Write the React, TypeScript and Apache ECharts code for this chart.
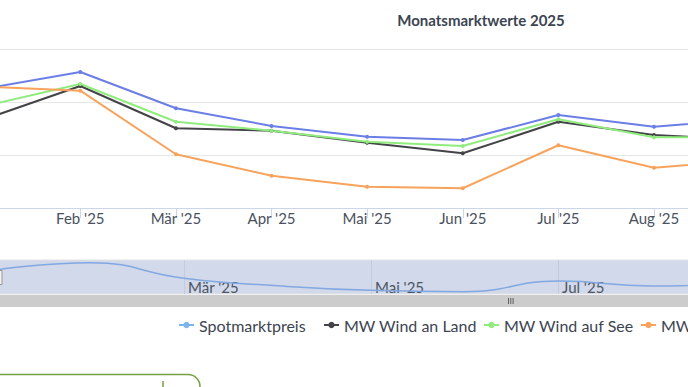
import React, { useEffect, useRef } from "react";
import * as echarts from "echarts";

const months = ["Jan '25", "Feb '25", "Mär '25", "Apr '25", "Mai '25", "Jun '25", "Jul '25", "Aug '25", "Sep '25"];
const spot = [11.26, 12.83, 9.41, 7.74, 6.73, 6.42, 8.77, 7.67, 8.4];
const windLand = [8.38, 11.51, 7.52, 7.29, 6.16, 5.16, 8.14, 6.89, 6.43];
const windSee = [9.61, 11.7, 8.14, 7.29, 6.25, 5.85, 8.37, 6.67, 6.7];
const solar = [11.45, 11.07, 5.07, 3.05, 2.01, 1.86, 5.92, 3.8, 4.52];
const seriesNames = ["Spotmarktpreis", "MW Wind an Land", "MW Wind auf See", "MW Solar"];
const yTicks = [0, 5, 10, 15];

const OFF = 60; // chart div is shifted left by this many px
const W = 900;
const FONT = "Lato, 'Open Sans', sans-serif";
const TEXT = "#3d4451";

export default function App() {
  const ref = useRef<HTMLDivElement>(null);
  useEffect(() => {
    const chart = echarts.init(ref.current!, null, { renderer: "svg" });
    const colors = ["#6b7ee6", "#434348", "#90ed7d", "#f7a35c"];
    const data = [spot, windLand, windSee, solar];
    const legendX = [178, 323, 483, 640];
    const navMin = Math.min(...spot) - 0.5;
    const navMax = Math.max(...spot) + 0.6;

    const option: any = {
      animation: false,
      textStyle: { fontFamily: FONT },
      grid: [
        { left: 44.7, right: W - 809.6, top: 49, height: 159 },
        {
          left: -3 + OFF, right: W - (745 + OFF), top: 260, height: 34,
          show: true, backgroundColor: "#d1d9ea", borderColor: "#e2e2e2", borderWidth: 1,
        },
      ],
      xAxis: [
        {
          type: "category", gridIndex: 0, data: months, boundaryGap: false,
          axisLine: { lineStyle: { color: "#ccd6eb" } },
          axisTick: { show: true, length: 10, lineStyle: { color: "#ccd6eb" } },
          axisLabel: {
            interval: (i: number) => i > 0 && i < months.length - 1,
            margin: 2, fontSize: 15, color: "#4a5160", fontFamily: FONT,
          },
        },
        {
          type: "category", gridIndex: 1, data: months, boundaryGap: false,
          axisLine: { show: false }, axisTick: { show: false },
          splitLine: {
            show: true, interval: (i: number) => i > 0 && i % 2 === 0,
            lineStyle: { color: "#c3cbdc", width: 1 },
          },
          axisLabel: {
            inside: true, interval: (i: number) => i > 0 && i % 2 === 0 && i < months.length - 1,
            align: "left", verticalAlign: "middle", margin: 7, padding: [0, 0, 0, 4],
            fontSize: 15, color: "#4d5563", fontFamily: FONT,
          },
        },
      ],
      yAxis: [
        {
          type: "value", gridIndex: 0, min: yTicks[0], max: yTicks[yTicks.length - 1], interval: 5,
          axisLabel: { show: false }, axisLine: { show: false }, axisTick: { show: false },
          splitLine: { lineStyle: { color: "#e6e6e6" } },
        },
        {
          type: "value", gridIndex: 1, min: navMin, max: navMax,
          axisLabel: { show: false }, axisLine: { show: false }, axisTick: { show: false },
          splitLine: { show: false },
        },
      ],
      legend: seriesNames.map((n, i) => ({
        data: [
          i === 0
            ? { name: n, itemStyle: { color: "#7cb5ec" }, lineStyle: { color: "#7cb5ec" } }
            : { name: n },
        ],
        left: legendX[i] + OFF, top: 317, padding: 0,
        itemWidth: 15, itemHeight: 8,
        selectedMode: false,
        textStyle: { fontSize: 16, color: TEXT, fontFamily: FONT },
      })),
      series: [
        ...seriesNames.map((n, i) => ({
          name: n, type: "line", xAxisIndex: 0, yAxisIndex: 0,
          data: data[i], color: colors[i],
          symbol: "circle", symbolSize: 4, showSymbol: true,
          lineStyle: { width: 2, color: colors[i] },
          itemStyle: { color: colors[i] },
        })),
        {
          name: "nav", type: "line", xAxisIndex: 1, yAxisIndex: 1, data: spot,
          smooth: true, symbol: "none", silent: true,
          lineStyle: { width: 1.5, color: "#82a8e2" },
        },
      ],
      graphic: [
        {
          type: "text", x: 481 + OFF, y: 20, z: 10,
          style: {
            text: "Monatsmarktwerte 2025", fill: TEXT,
            font: `bold 15px ${FONT}`, textAlign: "center", textVerticalAlign: "middle",
          },
        },
        { type: "rect", z: 10, shape: { x: -10 + OFF, y: 295, width: 780, height: 12 }, style: { fill: "#cccccc" } },
        { type: "line", z: 11, shape: { x1: 508.5 + OFF, y1: 298, x2: 508.5 + OFF, y2: 304 }, style: { stroke: "#444", lineWidth: 0.8 } },
        { type: "line", z: 11, shape: { x1: 510.8 + OFF, y1: 298, x2: 510.8 + OFF, y2: 304 }, style: { stroke: "#444", lineWidth: 0.8 } },
        { type: "line", z: 11, shape: { x1: 513.1 + OFF, y1: 298, x2: 513.1 + OFF, y2: 304 }, style: { stroke: "#444", lineWidth: 0.8 } },
        { type: "rect", z: 11, shape: { x: -5 + OFF, y: 270.5, width: 7, height: 14 }, style: { fill: "#f2f2f2", stroke: "#999", lineWidth: 1 } },
        { type: "rect", z: 10, shape: { x: -20 + OFF, y: 374.5, width: 220, height: 40, r: 12 }, style: { fill: "none", stroke: "#76a042", lineWidth: 1.5 } },
        { type: "line", z: 10, shape: { x1: 163 + OFF, y1: 381, x2: 163 + OFF, y2: 395 }, style: { stroke: "#76a042", lineWidth: 1.5 } },
      ],
    };
    chart.setOption(option);
    return () => chart.dispose();
  }, []);
  return (
    <div style={{ position: "fixed", left: 0, top: 0, width: 688, height: 387, overflow: "hidden", background: "#fff" }}>
      <div ref={ref} style={{ position: "absolute", left: -OFF, top: 0, width: W, height: 387 }} />
    </div>
  );
}
